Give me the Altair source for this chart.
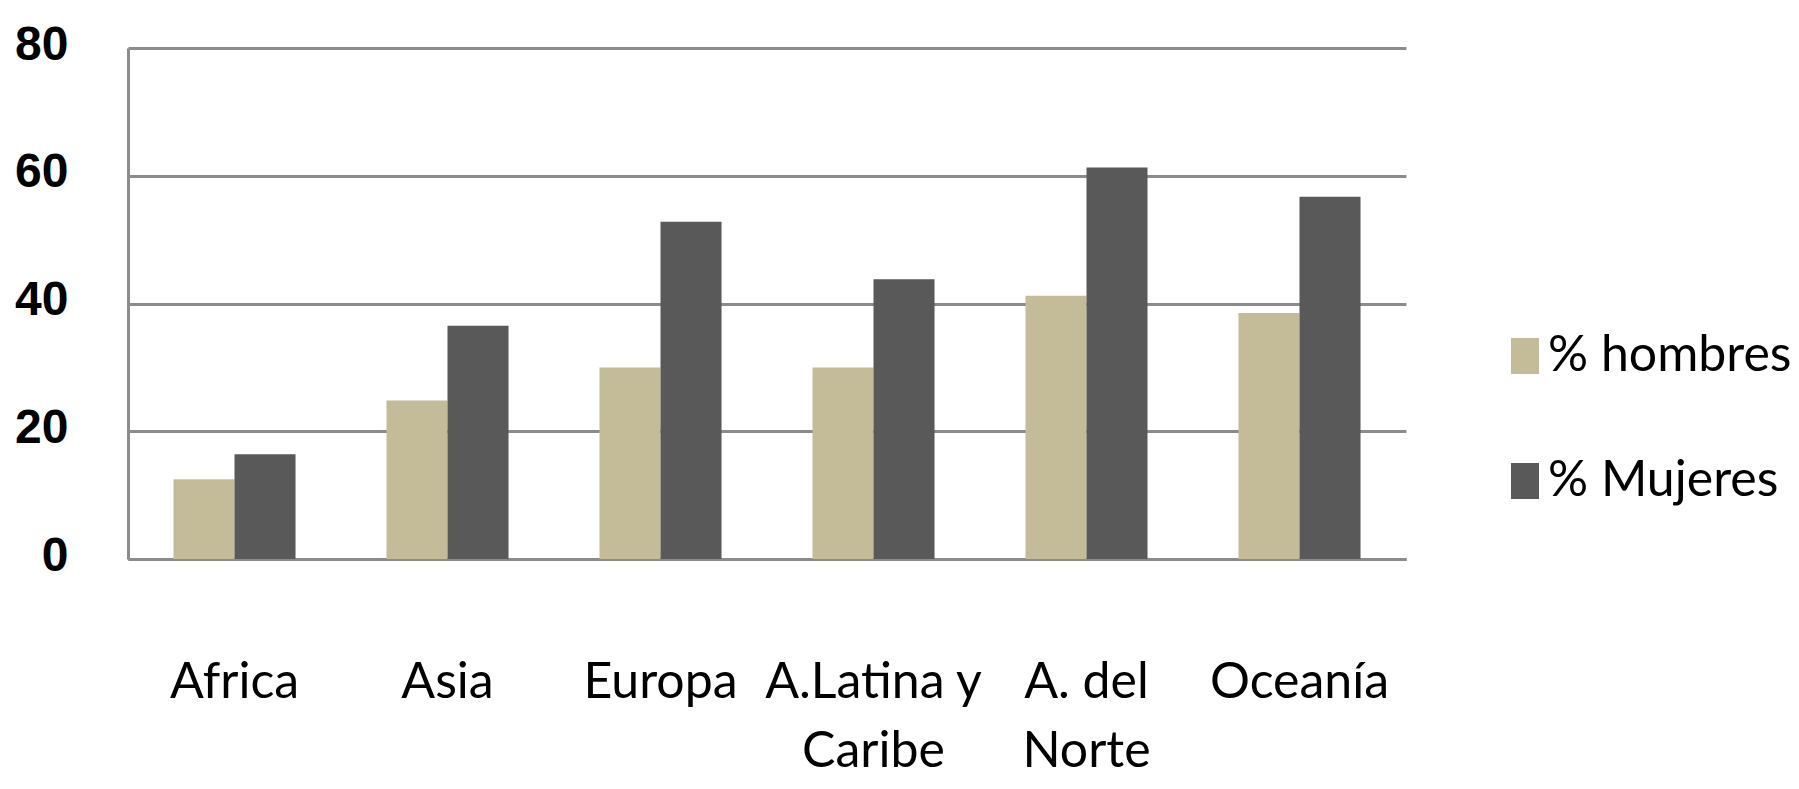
import json
import altair as alt
import pandas as pd

categories = ["Africa", "Asia", "Europa", "A.Latina y Caribe", "A. del Norte", "Oceanía"]
label_lines = [["Africa"], ["Asia"], ["Europa"], ["A.Latina y", "Caribe"], ["A. del", "Norte"], ["Oceanía"]]
series = ["% hombres", "% Mujeres"]
hombres = [12.5, 24.8, 30.0, 30.0, 41.2, 38.5]
mujeres = [16.4, 36.5, 52.8, 43.8, 61.3, 56.7]
y_ticks = [0, 20, 40, 60, 80]
colors = ["#C4BC98", "#595959"]

rows = []
for c, h, m in zip(categories, hombres, mujeres):
    rows.append({"region": c, "serie": series[0], "valor": h})
    rows.append({"region": c, "serie": series[1], "valor": m})
df = pd.DataFrame(rows)

expr = "datum.label"
for c, lines in zip(categories, label_lines):
    if len(lines) > 1:
        expr = f"datum.value == {json.dumps(c)} ? {json.dumps(lines)} : ({expr})"

FONT = "Lato, Liberation Sans, sans-serif"
NUMFONT = "Liberation Sans, Arial, sans-serif"
GRID = "#8C8C8C"

chart = alt.Chart(df).mark_bar(stroke=None).encode(
    x=alt.X(
        "region:N",
        sort=categories,
        title=None,
        scale=alt.Scale(paddingInner=0.427, paddingOuter=0.2135),
        axis=alt.Axis(
            labelExpr=expr,
            labelAngle=0,
            labelFont=FONT,
            labelFontSize=50,
            labelColor="#000000",
            labelLineHeight=69,
            labelPadding=98,
            labelLimit=600,
            ticks=False,
            tickSize=0,
            domainColor=GRID,
            domainWidth=3,
            grid=False,
        ),
    ),
    xOffset=alt.XOffset("serie:N", sort=series, scale=alt.Scale(paddingInner=0, paddingOuter=0)),
    y=alt.Y(
        "valor:Q",
        title=None,
        scale=alt.Scale(domain=[0, 80], nice=False, zero=True),
        axis=alt.Axis(
            values=y_ticks,
            labelFont=NUMFONT,
            labelFontSize=48,
            labelFontWeight="bold",
            labelColor="#000000",
            labelPadding=60,
            labelOffset=-3,
            ticks=False,
            tickSize=0,
            domainColor=GRID,
            domainWidth=3,
            grid=True,
            gridColor=GRID,
            gridWidth=3,
        ),
    ),
    color=alt.Color(
        "serie:N",
        sort=series,
        scale=alt.Scale(domain=series, range=colors),
        legend=alt.Legend(
            title=None,
            orient="none",
            legendX=1368,
            legendY=283,
            padding=0,
            symbolType="M-0.556,-1L1,-1L1,1L-0.556,1Z",
            symbolSize=1296,
            symbolStrokeWidth=0,
            symbolOpacity=1,
            labelFont=FONT,
            labelFontSize=50,
            labelColor="#000000",
            labelOffset=2,
            labelLimit=600,
            rowPadding=75,
        ),
    ),
).properties(
    width=1278,
    height=511,
    background="#FFFFFF",
    autosize=alt.AutoSizeParams(type="none"),
    padding={"left": 120, "top": 40, "right": 385, "bottom": 218},
).configure_view(stroke=None)

chart.save("out.html", embed_options={"renderer": "svg", "actions": False})
